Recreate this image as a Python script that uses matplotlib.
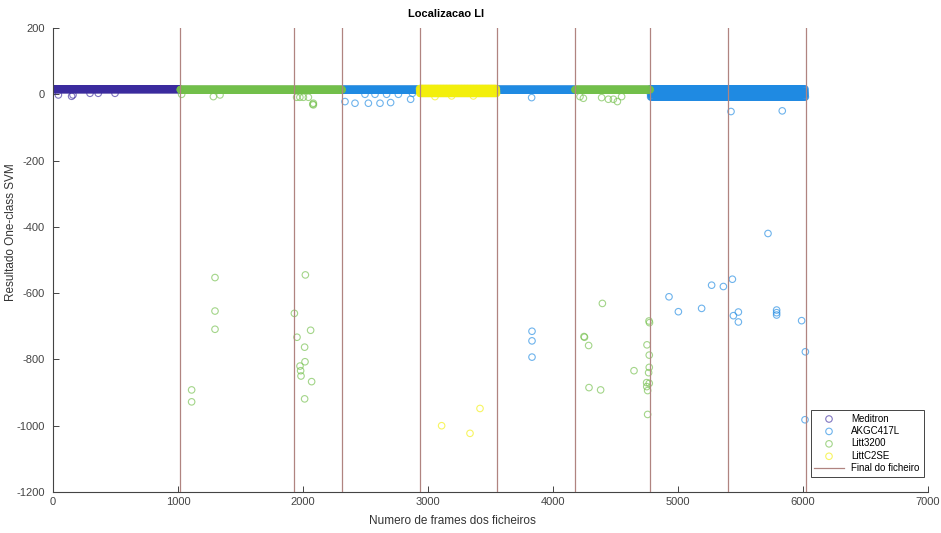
import matplotlib
matplotlib.use("Agg")
import matplotlib.pyplot as plt
from matplotlib.lines import Line2D
import numpy as np

plt.rcParams['font.family'] = ['Liberation Sans', 'DejaVu Sans']
plt.rcParams['axes.unicode_minus'] = False

# Last frame of each recording and the device it was taken with
file_ends = [1018, 1924, 2314, 2932, 3550, 4176, 4778, 5400, 6020]
file_devices = ["Meditron", "Litt3200", "Litt3200", "AKGC417L", "LittC2SE",
                "AKGC417L", "Litt3200", "AKGC417L", "AKGC417L"]
# Usual SVM scores of the frames in each recording
file_levels = [[15], [14], [14], [14], [17, 10, 3], [14], [14],
               [16, 8, 0, -8], [16, 8, 0, -8]]

# Frames whose score falls away from the usual level
meditron_x = [43, 149, 160, 296, 362, 496]
meditron_y = [-2, -6, -2, 3, 3, 3]

akg_x = [2336, 2416, 2523, 2616, 2701, 2496, 2576, 2669, 2763, 2861, 2875,
         3829, 5424, 5834,
         3832, 3832, 3832, 4928, 5003, 5189, 5269, 5363, 5435, 5443, 5483,
         5483, 5720, 5789, 5789, 5789, 5989, 6019, 6016]
akg_y = [-22, -27, -27, -27, -25, 0, 0, 0, 0, -15, 3,
         -10, -52, -50,
         -715, -744, -793, -611, -656, -646, -576, -580, -558, -668, -657,
         -687, -420, -651, -659, -666, -683, -777, -982]

litt3200_x = [1029, 1283, 1336, 1949, 1975, 2003, 2043, 2083, 2083, 2078,
              1109, 1109, 1296, 1296, 1296, 1931, 1952, 2013, 2016, 1976,
              1981, 1984, 2019, 2061, 2069, 2013,
              4216, 4243, 4389, 4443, 4483, 4515, 4549,
              4248, 4252, 4285, 4288, 4381, 4395, 4648, 4768, 4772, 4752,
              4770, 4770, 4765, 4749, 4770, 4750, 4757, 4757]
litt3200_y = [0, -7, -2, -9, -9, -9, -9, -27, -32, -30,
              -892, -928, -553, -654, -709, -661, -733, -763, -807, -820,
              -834, -850, -545, -712, -867, -919,
              -7, -12, -10, -15, -15, -22, -7,
              -731, -733, -758, -885, -892, -631, -834, -684, -689, -756,
              -787, -824, -840, -870, -872, -882, -894, -966]

littc2se_x = [3056, 3189, 3363, 3109, 3336, 3416]
littc2se_y = [-7, -5, -5, -1000, -1023, -948]

devices = ["Meditron", "AKGC417L", "Litt3200", "LittC2SE"]
colors = {"Meditron": "#3b2b9e", "AKGC417L": "#1f8ae2",
          "Litt3200": "#72bf4a", "LittC2SE": "#f3ef0c"}
outliers = {"Meditron": (meditron_x, meditron_y),
            "AKGC417L": (akg_x, akg_y),
            "Litt3200": (litt3200_x, litt3200_y),
            "LittC2SE": (littc2se_x, littc2se_y)}
line_color = "#b08480"

fig = plt.figure(figsize=(9.41, 5.33), dpi=100)
ax = fig.add_axes([53 / 941, 41 / 533, 875 / 941, 464 / 533])

# one scatter per device: every frame of its recordings plus the outliers
starts = [0] + file_ends[:-1]
handles = []
for dev in devices:
    xs, ys = [], []
    for start, end, d, levels in zip(starts, file_ends, file_devices, file_levels):
        if d != dev:
            continue
        frames = np.arange(start, end)
        xs.append(frames)
        ys.append(np.resize(levels, len(frames)))
    ox, oy = outliers[dev]
    xs.append(np.array(ox))
    ys.append(np.array(oy))
    h = ax.scatter(np.concatenate(xs), np.concatenate(ys), s=22,
                   facecolors='none', edgecolors=colors[dev],
                   linewidths=0.8, alpha=0.65, label=dev, zorder=2)
    handles.append(h)

# end of each recording
for end in file_ends:
    ax.axvline(end, color=line_color, lw=0.9, zorder=3)
handles.append(Line2D([], [], color=line_color, lw=0.9, label="Final do ficheiro"))

ax.set_xlim(0, 7000)
ax.set_ylim(-1200, 200)
ax.set_xticks(range(0, 7001, 1000))
ax.set_yticks(range(-1200, 201, 200))

for side in ("top", "right"):
    ax.spines[side].set_visible(False)
for side in ("left", "bottom"):
    ax.spines[side].set_color("#444444")
    ax.spines[side].set_linewidth(0.8)
ax.tick_params(direction='in', length=4, width=0.7, colors='#444444', labelsize=8)
ax.tick_params(axis='y', pad=6)

ax.set_title("Localizacao LI", fontsize=8, fontweight='bold', x=0.449, pad=8)
ax.set_xlabel("Numero de frames dos ficheiros", fontsize=8.5, color='#333333')
ax.xaxis.set_label_coords(0.456, -0.05)
ax.set_ylabel("Resultado One-class SVM", fontsize=8.5, color='#333333')
ax.yaxis.set_label_coords(-0.041, 0.56)

leg = ax.legend(handles=handles, loc='lower right', bbox_to_anchor=(0.995, 0.032),
                borderaxespad=0, fontsize=7, scatterpoints=1, handlelength=3,
                fancybox=False, edgecolor='#444444', framealpha=1,
                labelspacing=0.25, borderpad=0.4)
leg.get_frame().set_linewidth(0.7)

fig.savefig("out.png", dpi=100)
